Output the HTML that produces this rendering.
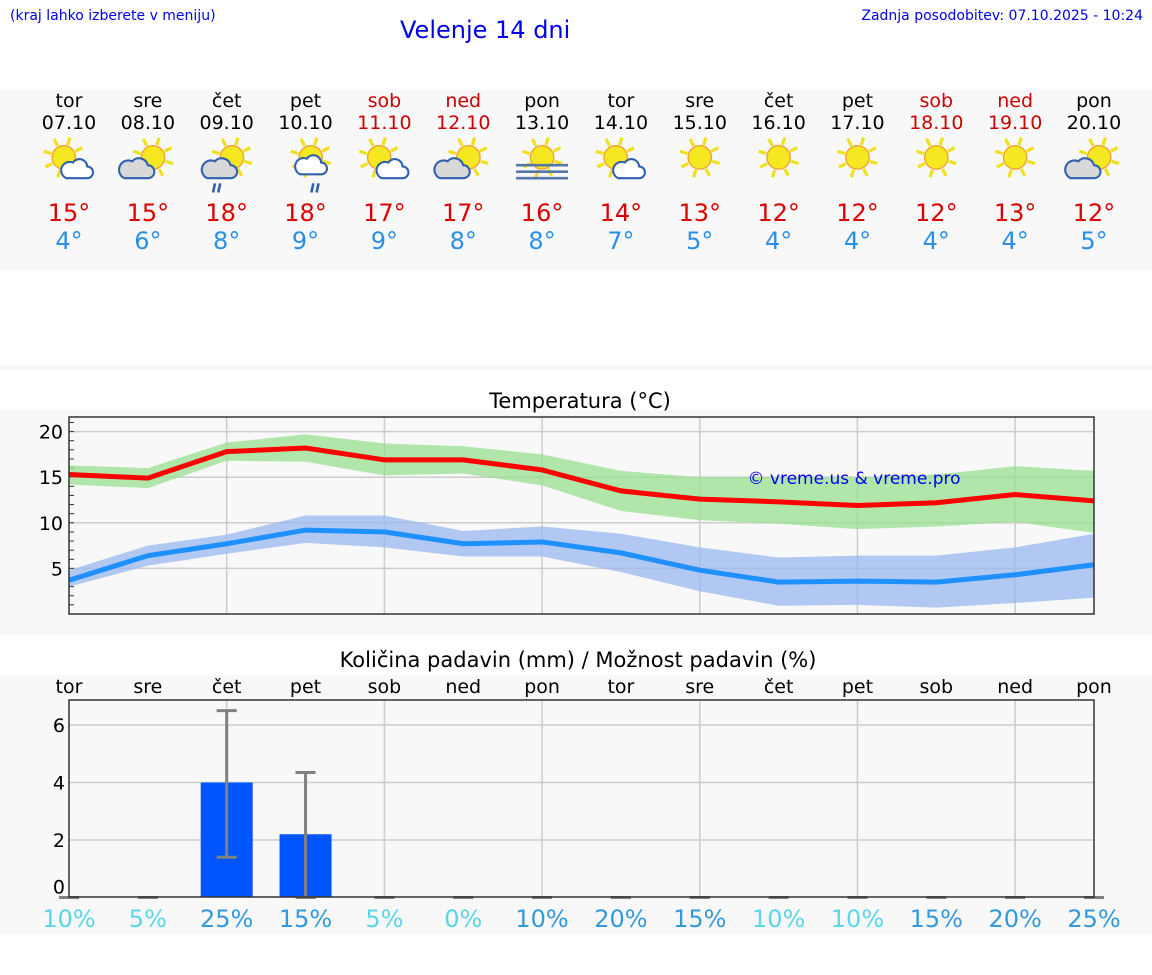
<!DOCTYPE html>
<html><head><meta charset="utf-8">
<style>
body{margin:0;width:1152px;height:975px;background:#fff;font-family:"DejaVu Sans","Liberation Sans",sans-serif;position:relative;overflow:hidden}
.abs{position:absolute}
</style></head>
<body>
<div class="abs" style="left:10px;top:8px;font-size:14px;color:#0000ee">(kraj lahko izberete v meniju)</div>
<div class="abs" style="left:400px;top:16px;font-size:24px;color:#0000ee">Velenje 14 dni</div>
<div class="abs" style="right:9px;top:8px;font-size:14px;color:#0000ee">Zadnja posodobitev: 07.10.2025 - 10:24</div>
<div class="abs" style="left:0;top:90px;width:1152px;height:180px;background:#f8f8f8"></div>
<div class="abs" style="left:0;top:365px;width:1152px;height:5px;background:#f6f6f6"></div>
<div class="abs" style="left:0;top:410px;width:1152px;height:225px;background:#f8f8f8"></div>
<div class="abs" style="left:0;top:675px;width:1152px;height:260px;background:#f8f8f8"></div>
<svg class="abs" style="left:0;top:0" width="1152" height="975" id="svg"></svg>
<script>
const days=["tor","sre","čet","pet","sob","ned","pon","tor","sre","čet","pet","sob","ned","pon"];
const dates=["07.10","08.10","09.10","10.10","11.10","12.10","13.10","14.10","15.10","16.10","17.10","18.10","19.10","20.10"];
const icons=["sc","cs","csr","scr","sc","cs","fog","sc","s","s","s","s","s","cs"];
const maxT=[15,15,18,18,17,17,16,14,13,12,12,12,13,12];
const minT=[4,6,8,9,9,8,8,7,5,4,4,4,4,5];
const maxLine=[15.3,14.9,17.8,18.2,16.9,16.9,15.8,13.5,12.6,12.3,11.9,12.2,13.1,12.4];
const maxHi=[16.3,16,18.8,19.7,18.7,18.4,17.5,15.7,15,15,15,15.3,16.2,15.7];
const maxLo=[14.2,13.8,16.8,16.7,15.2,15.4,14.1,11.3,10.3,9.9,9.3,9.6,10.1,8.9];
const minLine=[3.7,6.4,7.7,9.2,9.0,7.7,7.9,6.7,4.8,3.5,3.6,3.5,4.3,5.4];
const minHi=[4.8,7.5,8.7,10.8,10.8,9.1,9.6,8.8,7.3,6.2,6.4,6.4,7.3,8.8];
const minLo=[3,5.3,6.6,7.8,7.3,6.3,6.3,4.6,2.5,0.9,1,0.7,1.2,1.8];
const tempTicks=[5,10,15,20];
const precip=[0,0,4,2.2,0,0,0,0,0,0,0,0,0,0];
const precipLo=[0,0,1.4,0,0,0,0,0,0,0,0,0,0,0];
const precipHi=[0,0,6.5,4.35,0,0,0,0,0,0,0,0,0,0];
const precipTicks=[0,2,4,6];
const prob=[10,5,25,15,5,0,10,20,15,10,10,15,20,25];
const probDark=[0,0,1,1,0,0,1,1,1,0,0,1,1,1];
const weekend=[0,0,0,0,1,1,0,0,0,0,0,1,1,0];

const svg=document.getElementById('svg');const NS="http://www.w3.org/2000/svg";
function el(t,a,p){const e=document.createElementNS(NS,t);for(const k in a)e.setAttribute(k,a[k]);(p||svg).appendChild(e);return e;}
const X0=69,X1=1094,DX=(X1-X0)/13;
const xd=i=>X0+i*DX;
const yT=v=>614-v*9.12;
const yP=v=>897.5-v*28.75;

days.forEach((d,i)=>{
 const x=xd(i),col=weekend[i]?"#cc0000":"#000";
 let t=el('text',{x:x,y:107,'text-anchor':'middle','font-size':19,fill:col});t.textContent=d;
 
 t=el('text',{x:x,y:129,'text-anchor':'middle','font-size':19,fill:col});t.textContent=dates[i];
 
 t=el('text',{x:x,y:221,'text-anchor':'middle','font-size':24,fill:"#dd0000"});t.textContent=maxT[i]+"°";
 
 t=el('text',{x:x,y:249,'text-anchor':'middle','font-size':24,fill:"#2a8fe8"});t.textContent=minT[i]+"°";
 
 const g=el('g',{transform:`translate(${x},160) scale(1.3)`});
 
 const sx=icons[i]=="s"||icons[i]=="fog"?0:(icons[i]=="sc"?-4:4);
 for(let k=0;k<8;k++){const a=k*Math.PI/4+0.3;el('line',{x1:sx+Math.cos(a)*10,y1:-2+Math.sin(a)*10,x2:sx+Math.cos(a)*16,y2:-2+Math.sin(a)*16,stroke:"#f0e020",'stroke-width':2.5},g);}
 el('circle',{cx:sx,cy:-2,r:9,fill:"#f5e820",stroke:"#f0a030",'stroke-width':1},g);
 const ic=icons[i];
 if(ic=="sc"||ic=="scr") el('path',{d:"M0 14 h16 a4.5 4.5 0 0 0 0-9 a6 6 0 0 0-11-3 a4.5 4.5 0 0 0-5 12z",fill:"#fff",stroke:"#3060b0",'stroke-width':1.6,transform:ic=="sc"?"translate(-2,0)":"translate(-4,-3)"},g);
 if(ic=="cs"||ic=="csr") el('path',{d:"M-13 15 h18 a5 5 0 0 0 0-10 a7 7 0 0 0-12-3 a5 5 0 0 0-6 13z",fill:"#d8d8d8",stroke:"#3060b0",'stroke-width':1.6,transform:ic=="csr"?"translate(-2,-1)":"translate(-5,-1)"},g);
 if(ic=="csr"||ic=="scr"){const rx=ic=="csr"?-9:6;el('path',{d:`M${rx} 18 l-1.5 7 M${rx+4} 18 l-1.5 7`,stroke:"#3060b0",'stroke-width':2},g);}
 if(ic=="fog"){for(let k=0;k<3;k++)el('line',{x1:-20,x2:20,y1:4+k*5,y2:4+k*5,stroke:"#5577aa",'stroke-width':2},g);}
});

let t=el('text',{x:580,y:408,'text-anchor':'middle','font-size':21,fill:"#000"});t.textContent="Temperatura (°C)";

el('rect',{x:X0,y:417,width:X1-X0,height:197,fill:"#f8f8f8"});
tempTicks.forEach(v=>{el('line',{x1:X0,x2:X1,y1:yT(v),y2:yT(v),stroke:"#ccc",'stroke-width':1.5});
 const tt=el('text',{x:63,y:yT(v)+7,'text-anchor':'end','font-size':19});tt.textContent=v;
 });
for(let v=1;v<=21;v++)el('line',{x1:X0,x2:X0+5,y1:yT(v),y2:yT(v),stroke:"#333",'stroke-width':1});
for(let i=2;i<14;i+=2)el('line',{x1:xd(i),x2:xd(i),y1:417,y2:614,stroke:"#ccc",'stroke-width':1.5});
function band(hi,lo,fill,name){let d="";hi.forEach((v,i)=>d+=(i?"L":"M")+xd(i)+" "+yT(v));for(let i=lo.length-1;i>=0;i--)d+="L"+xd(i)+" "+yT(lo[i]);const p=el('path',{d:d+"Z",fill:fill,'fill-opacity':0.75});}
function line(arr,col,name){const p=el('polyline',{points:arr.map((v,i)=>xd(i)+","+yT(v)).join(" "),fill:"none",stroke:col,'stroke-width':5});}
band(maxHi,maxLo,"#98e090","max-temp-band");
band(minHi,minLo,"#98b8f0","min-temp-band");
line(maxLine,"#ff0000","max-temp-line");
line(minLine,"#1e90ff","min-temp-line");
el('rect',{x:X0,y:417,width:X1-X0,height:197,fill:"none",stroke:"#333",'stroke-width':1.5});
t=el('text',{x:854,y:484,'text-anchor':'middle','font-size':17,fill:"#0000ee"});t.textContent="© vreme.us & vreme.pro";


t=el('text',{x:578,y:667,'text-anchor':'middle','font-size':21,fill:"#000"});t.textContent="Količina padavin (mm) / Možnost padavin (%)";

days.forEach((d,i)=>{const tt=el('text',{x:xd(i),y:693,'text-anchor':'middle','font-size':19});tt.textContent=d;
 });
precipTicks.forEach(v=>{if(v>0)el('line',{x1:X0,x2:X1,y1:yP(v),y2:yP(v),stroke:"#ccc",'stroke-width':1.5});
 const tt=el('text',{x:65,y:yP(v)+(v?7:-4),'text-anchor':'end','font-size':19});tt.textContent=v;
 });
for(let i=2;i<14;i+=2)el('line',{x1:xd(i),x2:xd(i),y1:700,y2:897,stroke:"#ccc",'stroke-width':1.5});
precip.forEach((v,i)=>{
 if(v>0){const r=el('rect',{x:xd(i)-26,y:yP(v),width:52,height:yP(0)-yP(v),fill:"#0055ff"});}
 const x=xd(i);
 if(precipHi[i]>0){el('line',{x1:x,x2:x,y1:yP(precipHi[i]),y2:yP(precipLo[i]),stroke:"#808080",'stroke-width':3});
  el('line',{x1:x-10,x2:x+10,y1:yP(precipHi[i]),y2:yP(precipHi[i]),stroke:"#808080",'stroke-width':3});}
 el('line',{x1:x-10,x2:x+10,y1:yP(precipLo[i]),y2:yP(precipLo[i]),stroke:"#808080",'stroke-width':3});
 const tt=el('text',{x:x,y:927,'text-anchor':'middle','font-size':24,fill:probDark[i]?"#3399dd":"#5bd5e8"});tt.textContent=prob[i]+"%";
 
});
el('rect',{x:X0,y:700,width:X1-X0,height:197,fill:"none",stroke:"#333",'stroke-width':1.5});
</script>
</body></html>
